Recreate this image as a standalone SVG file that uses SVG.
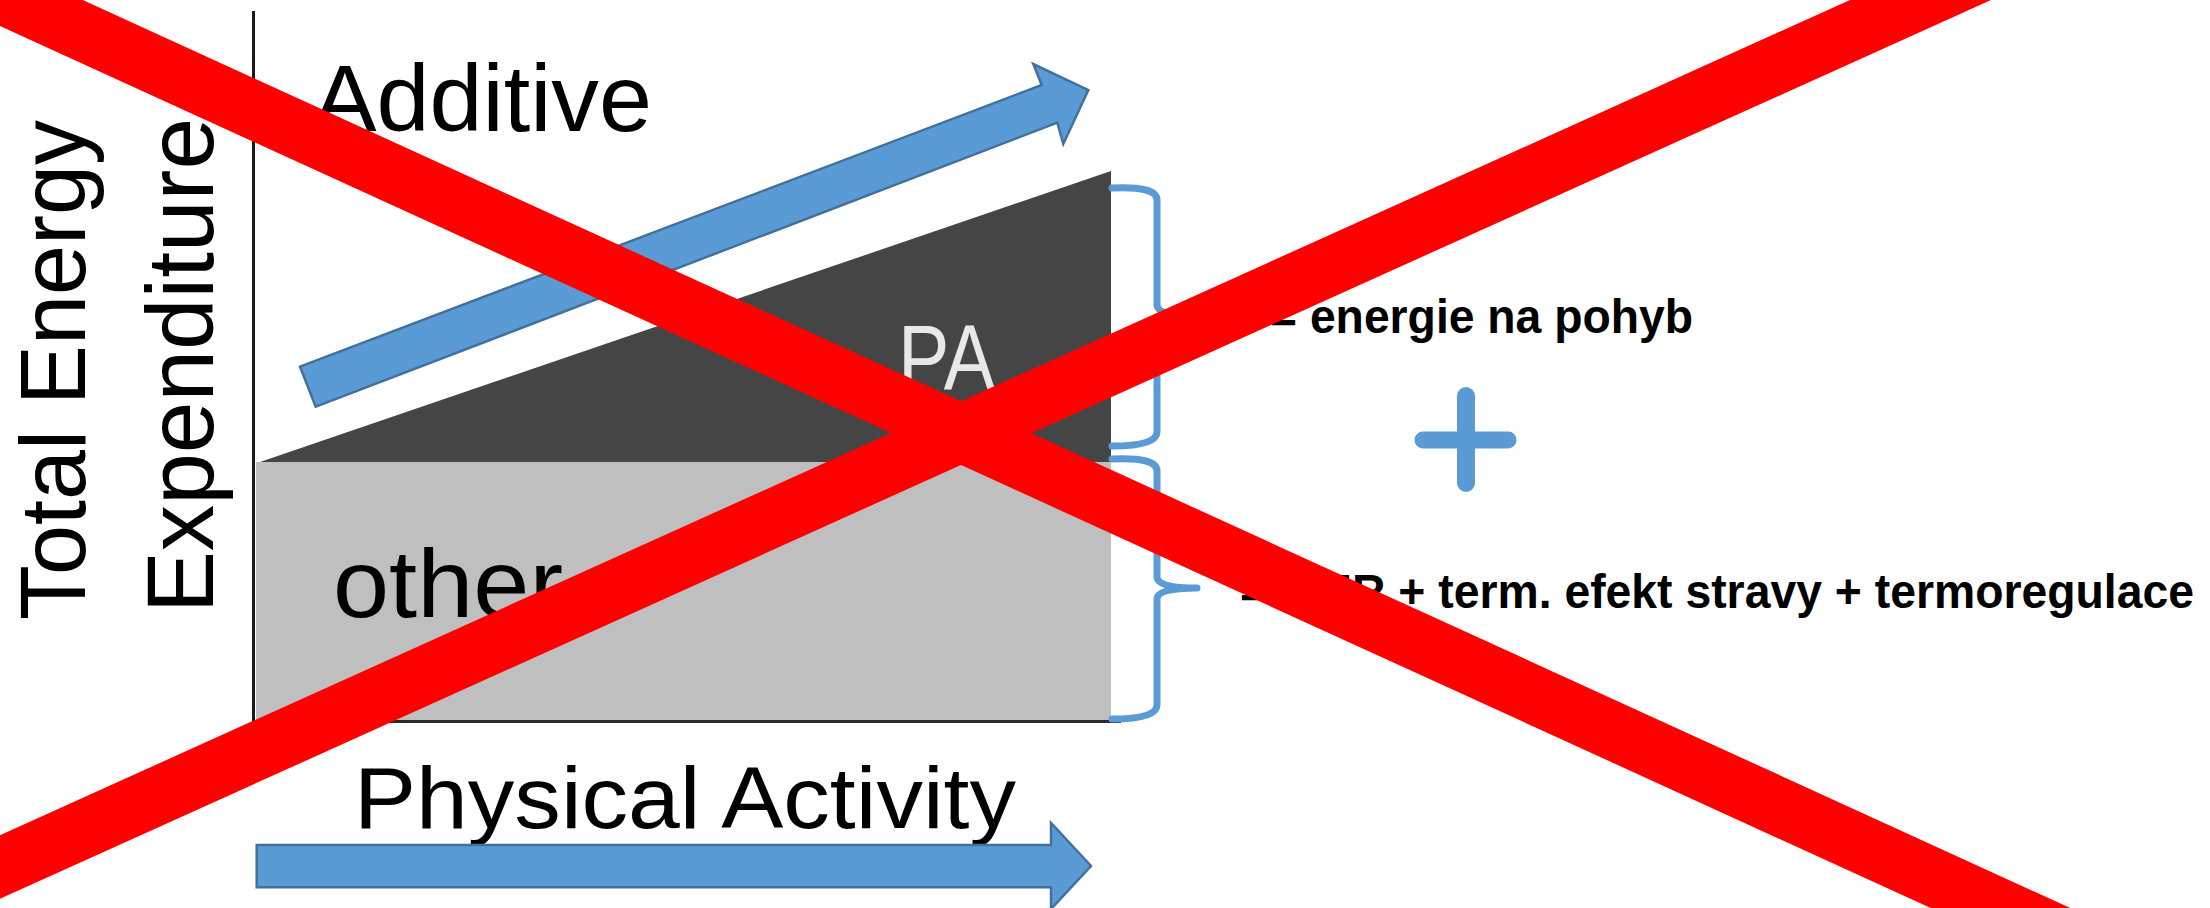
<svg xmlns="http://www.w3.org/2000/svg" width="2210" height="908" viewBox="0 0 2210 908">
<style>
.lbl{font-family:"Liberation Sans",Arial,sans-serif;fill:#000}
.bold{font-family:"Liberation Sans",Arial,sans-serif;font-weight:bold;font-size:49px;fill:#000}
.arrow{fill:#5b9bd5;stroke:#41719c;stroke-width:2.5;stroke-linejoin:miter}
.brace{fill:none;stroke:#5b9bd5;stroke-width:7;stroke-linecap:round;stroke-linejoin:round}
.plus{stroke:#5b9bd5;stroke-linecap:round}
.cross{stroke:#ff0000;stroke-width:58;fill:none}
</style>
<rect width="2210" height="908" fill="#ffffff"/>
<g id="y-axis-label">
  <text class="lbl" font-size="93" transform="translate(85,620) rotate(-90)" textLength="500" lengthAdjust="spacingAndGlyphs">Total Energy</text>
  <text class="lbl" font-size="95" transform="translate(213,613) rotate(-90)" textLength="495" lengthAdjust="spacingAndGlyphs">Expenditure</text>
</g>
<g id="title">
  <text class="lbl" font-size="95" x="313" y="131" textLength="339" lengthAdjust="spacingAndGlyphs">Additive</text>
</g>
<g id="chart">
  <rect x="256" y="462" width="855" height="259" fill="#bfbfbf"/>
  <polygon points="260,462 1111,171 1111,462" fill="#454545"/>
  <line x1="253.5" y1="11" x2="253.5" y2="722" stroke="#1a1a1a" stroke-width="3"/>
  <line x1="252" y1="721.5" x2="1121" y2="721.5" stroke="#2a2a2a" stroke-width="3"/>
</g>
<g id="pa-segment">
  <text class="lbl" font-size="92" x="898" y="390" style="fill:#e8e8e8" textLength="97" lengthAdjust="spacingAndGlyphs">PA</text>
</g>
<g id="other-segment">
  <text class="lbl" font-size="96" x="333" y="617" textLength="230" lengthAdjust="spacingAndGlyphs">other</text>
</g>
<g id="x-axis-label">
  <text class="lbl" font-size="88" x="354" y="828" textLength="662" lengthAdjust="spacingAndGlyphs">Physical Activity</text>
</g>
<g id="connectors">
  <polygon class="arrow" points="300,366.7 1041.7,85 1033.3,64 1088.3,90 1063.3,144 1057.3,122.7 315.7,406.7"/>
  <polygon class="arrow" points="256.7,845 1051,845 1051,823 1091,866 1051,909 1051,887.3 256.7,887.3"/>
</g>
<g id="brace-pa">
  <path class="brace" d="M1112,188 Q1157,186 1157,200 L1157,305 Q1157,316 1197,316 Q1157,316 1157,327 L1157,432 Q1157,446 1112,446"/>
  <text class="bold" x="1270" y="333" textLength="423" lengthAdjust="spacingAndGlyphs">= energie na pohyb</text>
</g>
<g id="plus-sign">
  <line class="plus" x1="1466" y1="396" x2="1466" y2="483" stroke-width="18"/>
  <line class="plus" x1="1423" y1="440" x2="1508" y2="440" stroke-width="17"/>
</g>
<g id="brace-other">
  <path class="brace" d="M1112,459 Q1157,457 1157,471 L1157,577 Q1157,588 1197,588 Q1157,588 1157,599 L1157,705 Q1157,719 1112,719"/>
  <text class="bold" x="1240" y="608" textLength="954" lengthAdjust="spacingAndGlyphs">= BMR + term. efekt stravy + termoregulace</text>
</g>
<g id="red-cross">
  <line class="cross" x1="-100" y1="-51.6" x2="2300" y2="1044.8"/>
  <line class="cross" x1="-100" y1="912.1" x2="2300" y2="-171.3"/>
</g>
</svg>
